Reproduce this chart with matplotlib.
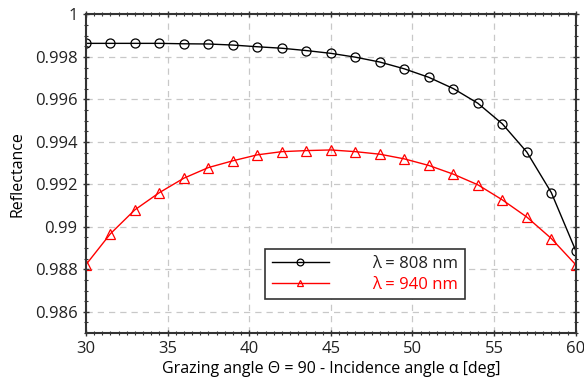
import numpy as np
import matplotlib
matplotlib.use('Agg')
import matplotlib.pyplot as plt
from matplotlib.ticker import MultipleLocator

# grazing angle [deg]
angle = np.arange(30, 60.1, 1.5)

# reflectance at 808 nm
r_808 = [0.99864, 0.99864, 0.99864, 0.99864, 0.99862, 0.99861, 0.99856,
         0.99848, 0.99841, 0.99830, 0.99817, 0.99799, 0.99776, 0.99744,
         0.99704, 0.99651, 0.99582, 0.99485, 0.99352, 0.99161, 0.98887]

# reflectance at 940 nm
r_940 = [0.98821, 0.98967, 0.99080, 0.99161, 0.99229, 0.99279, 0.99311,
         0.99339, 0.99354, 0.99359, 0.99362, 0.99354, 0.99342, 0.99320,
         0.99289, 0.99248, 0.99198, 0.99127, 0.99046, 0.98945, 0.98821]

plt.rcParams['font.family'] = ['Open Sans', 'DejaVu Sans']
plt.rcParams['font.size'] = 11.5
plt.rcParams['text.color'] = '#222222'

fig = plt.figure(figsize=(5.84, 3.81), dpi=100)
ax = fig.add_axes([0.147, 0.126, 0.839, 0.836])

ax.plot(angle, r_808, color='black', lw=1, marker='o', ms=6.5,
        mfc='none', mew=0.9, label='λ = 808 nm')
ax.plot(angle, r_940, color='red', lw=1, marker='^', ms=6.5,
        mfc='none', mew=0.9, label='λ = 940 nm')

ax.set_xlim(30, 60)
ax.set_ylim(0.985, 1.0)
ax.xaxis.set_major_locator(MultipleLocator(5))
ax.xaxis.set_minor_locator(MultipleLocator(0.5))
ax.yaxis.set_minor_locator(MultipleLocator(0.0005))
ax.set_yticks([0.986, 0.988, 0.99, 0.992, 0.994, 0.996, 0.998, 1.0])
ax.set_yticklabels(['0.986', '0.988', '0.99', '0.992', '0.994', '0.996', '0.998', '1'])

ax.tick_params(which='both', direction='inout', top=True, right=True,
               color='#333333', labelcolor='#222222', labelsize=12)
ax.tick_params(which='major', length=5, width=1)
ax.tick_params(which='minor', length=3, width=0.8)
for s in ax.spines.values():
    s.set_linewidth(1.5)
    s.set_color('#333333')

ax.grid(True, which='major', ls=(0, (5, 4)), color='#c8c8c8', lw=0.9)
ax.set_axisbelow(True)

ax.set_xlabel('Grazing angle Θ = 90 - Incidence angle α [deg]', labelpad=3)
ax.set_ylabel('Reflectance', labelpad=7)

leg = ax.legend(loc='lower left', bbox_to_anchor=(0.349, 0.079), numpoints=1,
                handlelength=3.4, handletextpad=2.6, markerscale=0.75,
                fancybox=False, edgecolor='#333333', framealpha=1,
                borderpad=0.4, labelspacing=0.3, fontsize=12)
leg.get_frame().set_linewidth(1.2)
leg.get_texts()[1].set_color('red')

fig.savefig('out.png', dpi=100)
